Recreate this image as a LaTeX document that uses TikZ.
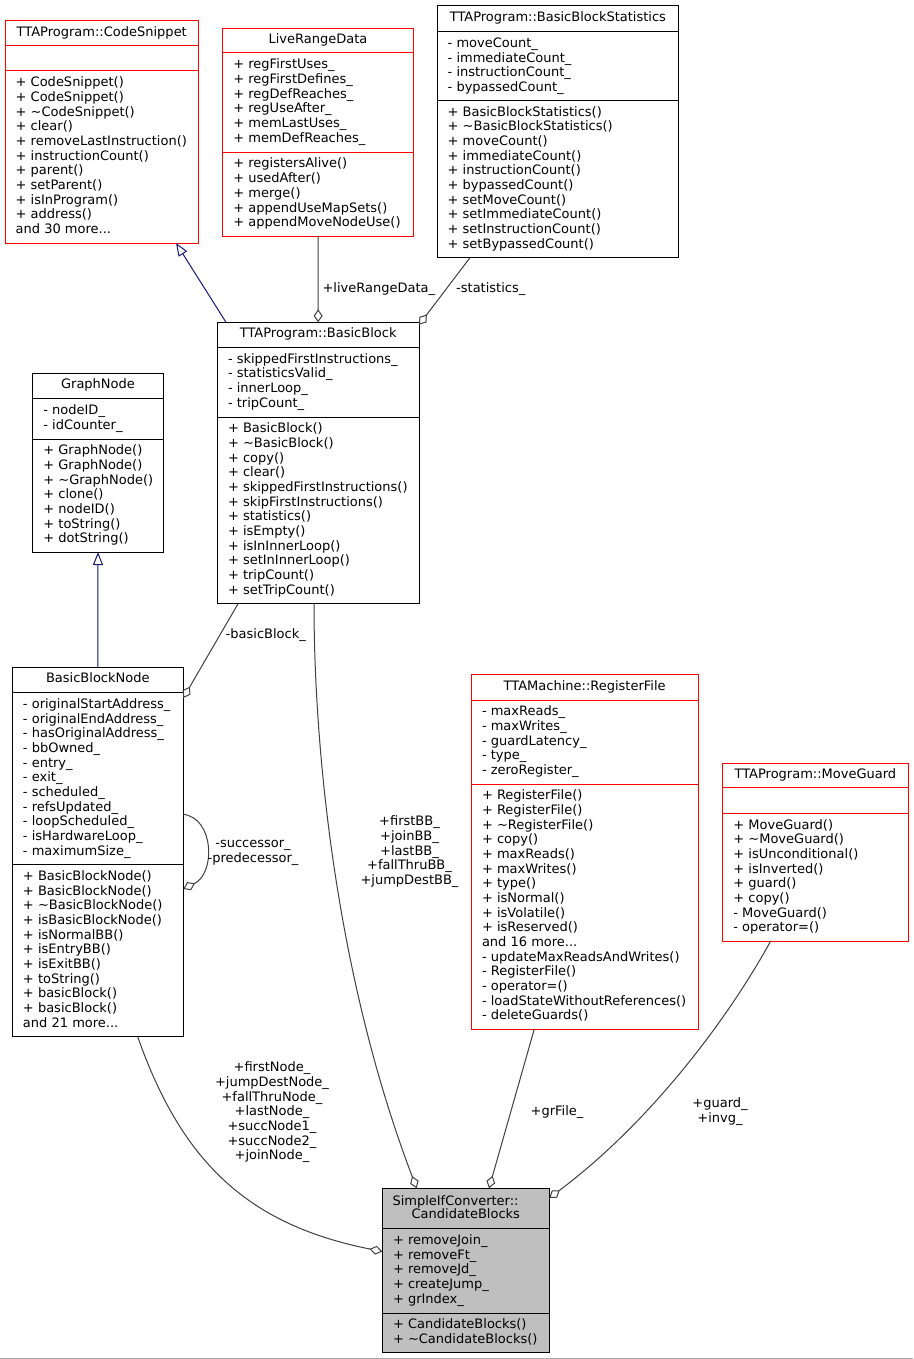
\documentclass[tikz,border=0pt]{standalone}
\usepackage{fontspec}
\setmainfont{DejaVu Sans}
\usetikzlibrary{arrows.meta,calc}
\definecolor{edgegray}{HTML}{404040}
\definecolor{inhblue}{HTML}{191970}
\definecolor{cbfill}{HTML}{BFBFBF}
\definecolor{boxred}{HTML}{FF0000}
\definecolor{pageline}{HTML}{A8A8A8}
\newcommand\fs{\fontsize{13pt}{14.67pt}\selectfont}
\tikzset{
 box/.style={draw=black, line width=1pt, inner sep=0pt, outer sep=0pt, anchor=north west, fill=white},
 rbox/.style={box, draw=boxred},
 gbox/.style={box, fill=cbfill},
 sepk/.style={draw=black, line width=1pt},
 sepr/.style={draw=boxred, line width=1pt},
 txt/.style={inner sep=0pt, anchor=north west, align=left, font=\fs},
 ttl/.style={inner sep=0pt, anchor=base, font=\fs},
 lbl/.style={inner sep=0pt, anchor=north, align=center, font=\fs},
 slbl/.style={inner sep=0pt, anchor=base west, font=\fs},
 agg/.style={draw=edgegray, line width=1pt, -{Diamond[open,length=13pt,width=9pt]}},
 inh/.style={draw=inhblue, line width=1pt, -{Triangle[open,length=13pt,width=10pt]}},
}
\newcommand\sect[4]{\node[txt] (#1) at (#2,#3-11) {\rule{0pt}{11pt}#4};}
\newcommand\tl{\textasciitilde}
\begin{document}
\begin{tikzpicture}[x=1pt,y=-1pt]
\fill[white] (0,0) rectangle (913,1359);
\useasboundingbox (0,0) rectangle (913,1359);
\draw[pageline, line width=1pt] (0,1358.3) -- (913,1358.3);

% ---- TTAProgram::CodeSnippet
\node[rbox, minimum width=193.5pt, minimum height=222.3pt] (cs) at (5,20.7) {};
\draw[sepr] (5,45.7) -- (198.5,45.7);
\draw[sepr] (5,71) -- (198.5,71);
\node[ttl] (cs-h) at (101.75,36.2) {TTAProgram::CodeSnippet};
\sect{cs-m}{15.5}{86.5}{+ CodeSnippet()\\+ CodeSnippet()\\+ \tl CodeSnippet()\\+ clear()\\+ removeLastInstruction()\\+ instructionCount()\\+ parent()\\+ setParent()\\+ isInProgram()\\+ address()\\and 30 more...}

% ---- LiveRangeData
\node[rbox, minimum width=190.6pt, minimum height=207.7pt] (lrd) at (222.7,28.3) {};
\draw[sepr] (222.7,53) -- (413.3,53);
\draw[sepr] (222.7,152.3) -- (413.3,152.3);
\node[ttl] (lrd-h) at (318,43.8) {LiveRangeData};
\sect{lrd-a}{233.2}{68.5}{+ regFirstUses\_\\+ regFirstDefines\_\\+ regDefReaches\_\\+ regUseAfter\_\\+ memLastUses\_\\+ memDefReaches\_}
\sect{lrd-m}{233.2}{167.8}{+ registersAlive()\\+ usedAfter()\\+ merge()\\+ appendUseMapSets()\\+ appendMoveNodeUse()}

% ---- TTAProgram::BasicBlockStatistics
\node[box, minimum width=241.7pt, minimum height=252pt] (bbs) at (437,5.7) {};
\draw[sepk] (437,31.7) -- (678.7,31.7);
\draw[sepk] (437,100.3) -- (678.7,100.3);
\node[ttl] (bbs-h) at (557.85,21.2) {TTAProgram::BasicBlockStatistics};
\sect{bbs-a}{447.5}{47.2}{- moveCount\_\\- immediateCount\_\\- instructionCount\_\\- bypassedCount\_}
\sect{bbs-m}{447.5}{115.8}{+ BasicBlockStatistics()\\+ \tl BasicBlockStatistics()\\+ moveCount()\\+ immediateCount()\\+ instructionCount()\\+ bypassedCount()\\+ setMoveCount()\\+ setImmediateCount()\\+ setInstructionCount()\\+ setBypassedCount()}

% ---- TTAProgram::BasicBlock
\node[box, minimum width=201.7pt, minimum height=281pt] (bb) at (217.3,322.3) {};
\draw[sepk] (217.3,347.6) -- (419,347.6);
\draw[sepk] (217.3,417) -- (419,417);
\node[ttl] (bb-h) at (318.15,337.8) {TTAProgram::BasicBlock};
\sect{bb-a}{227.8}{363.1}{- skippedFirstInstructions\_\\- statisticsValid\_\\- innerLoop\_\\- tripCount\_}
\sect{bb-m}{227.8}{432.5}{+ BasicBlock()\\+ \tl BasicBlock()\\+ copy()\\+ clear()\\+ skippedFirstInstructions()\\+ skipFirstInstructions()\\+ statistics()\\+ isEmpty()\\+ isInInnerLoop()\\+ setInInnerLoop()\\+ tripCount()\\+ setTripCount()}

% ---- GraphNode
\node[box, minimum width=130.6pt, minimum height=178.7pt] (gn) at (32.7,373.3) {};
\draw[sepk] (32.7,398.7) -- (163.3,398.7);
\draw[sepk] (32.7,439) -- (163.3,439);
\node[ttl] (gn-h) at (98,388.8) {GraphNode};
\sect{gn-a}{43.2}{414.2}{- nodeID\_\\- idCounter\_}
\sect{gn-m}{43.2}{454.5}{+ GraphNode()\\+ GraphNode()\\+ \tl GraphNode()\\+ clone()\\+ nodeID()\\+ toString()\\+ dotString()}

% ---- BasicBlockNode
\node[box, minimum width=171pt, minimum height=369.7pt] (bbn) at (12.3,667) {};
\draw[sepk] (12.3,692.7) -- (183.3,692.7);
\draw[sepk] (12.3,864.7) -- (183.3,864.7);
\node[ttl] (bbn-h) at (97.8,682.5) {BasicBlockNode};
\sect{bbn-a}{22.8}{708.2}{- originalStartAddress\_\\- originalEndAddress\_\\- hasOriginalAddress\_\\- bbOwned\_\\- entry\_\\- exit\_\\- scheduled\_\\- refsUpdated\_\\- loopScheduled\_\\- isHardwareLoop\_\\- maximumSize\_}
\sect{bbn-m}{22.8}{880.2}{+ BasicBlockNode()\\+ BasicBlockNode()\\+ \tl BasicBlockNode()\\+ isBasicBlockNode()\\+ isNormalBB()\\+ isEntryBB()\\+ isExitBB()\\+ toString()\\+ basicBlock()\\+ basicBlock()\\and 21 more...}

% ---- TTAMachine::RegisterFile
\node[rbox, minimum width=226.7pt, minimum height=354.3pt] (rf) at (471.3,674.7) {};
\draw[sepr] (471.3,700) -- (698,700);
\draw[sepr] (471.3,784) -- (698,784);
\node[ttl] (rf-h) at (584.65,690.2) {TTAMachine::RegisterFile};
\sect{rf-a}{481.8}{715.5}{- maxReads\_\\- maxWrites\_\\- guardLatency\_\\- type\_\\- zeroRegister\_}
\sect{rf-m}{481.8}{799.5}{+ RegisterFile()\\+ RegisterFile()\\+ \tl RegisterFile()\\+ copy()\\+ maxReads()\\+ maxWrites()\\+ type()\\+ isNormal()\\+ isVolatile()\\+ isReserved()\\and 16 more...\\- updateMaxReadsAndWrites()\\- RegisterFile()\\- operator=()\\- loadStateWithoutReferences()\\- deleteGuards()}

% ---- TTAProgram::MoveGuard
\node[rbox, minimum width=185.3pt, minimum height=178pt] (mg) at (722.7,763) {};
\draw[sepr] (722.7,787.7) -- (908,787.7);
\draw[sepr] (722.7,813.3) -- (908,813.3);
\node[ttl] (mg-h) at (815.35,778.5) {TTAProgram::MoveGuard};
\sect{mg-m}{733.2}{828.8}{+ MoveGuard()\\+ \tl MoveGuard()\\+ isUnconditional()\\+ isInverted()\\+ guard()\\+ copy()\\- MoveGuard()\\- operator=()}

% ---- SimpleIfConverter::CandidateBlocks
\node[gbox, minimum width=167pt, minimum height=164pt] (cb) at (382.3,1188.3) {};
\draw[sepk] (382.3,1228.7) -- (549.3,1228.7);
\draw[sepk] (382.3,1313) -- (549.3,1313);
\node[slbl] (cb-h1) at (392.3,1205) {SimpleIfConverter::};
\node[ttl] (cb-h2) at (465.8,1218.3) {CandidateBlocks};
\sect{cb-a}{392.8}{1244.2}{+ removeJoin\_\\+ removeFt\_\\+ removeJd\_\\+ createJump\_\\+ grIndex\_}
\sect{cb-m}{392.8}{1328.5}{+ CandidateBlocks()\\+ \tl CandidateBlocks()}

% ---- connectors
\draw[inh] ($(bb.north west)+(8.7,0)$) -- ($(cs.south east)+(-22.5,0)$);
\draw[inh] (bbn.north) -- (gn.south);
\draw[agg] (lrd.south) -- (bb.north);
\draw[agg] ($(bbs.south west)+(33,0)$) -- ($(bb.north east)+(0,2.5)$);
\draw[agg] ($(bb.south west)+(21,0)$) -- ($(bbn.north east)+(0,31)$);
\draw[agg] ($(bbn.north east)+(0,147.3)$) .. controls +(30.7,3.7) and +(32.7,-16) .. ($(bbn.north east)+(0,222)$);
\draw[agg] ($(bb.south west)+(96.7,0)$) .. controls +(0,150) and +(-80,-210) .. ($(cb.north west)+(34.4,0)$);
\draw[agg] ($(bbn.south west)+(125.4,0)$) .. controls +(45.5,130) and +(-130,-26) .. ($(cb.north west)+(0,63.2)$);
\draw[agg] ($(rf.south west)+(63,0)$) -- ($(cb.north west)+(106.7,0)$);
\draw[agg] ($(mg.south west)+(48,0)$) .. controls +(-44,80) and +(100,-75) .. ($(cb.north east)+(0,9.7)$);

% ---- connector labels
\node[slbl] (l-lrd) at (322.3,292.7) {+liveRangeData\_};
\node[slbl] (l-stat) at (456,292.7) {-statistics\_};
\node[slbl] (l-bb) at (225.5,638.3) {-basicBlock\_};
\node[lbl] (l-succ) at (253,836.7) {\rule{0pt}{11pt}-successor\_\\-predecessor\_};
\node[lbl] (l-bbs) at (409.5,814.7) {\rule{0pt}{11pt}+firstBB\_\\+joinBB\_\\+lastBB\_\\+fallThruBB\_\\+jumpDestBB\_};
\node[lbl] (l-nodes) at (272,1060.7) {\rule{0pt}{11pt}+firstNode\_\\+jumpDestNode\_\\+fallThruNode\_\\+lastNode\_\\+succNode1\_\\+succNode2\_\\+joinNode\_};
\node[ttl] (l-gr) at (557,1115) {+grFile\_};
\node[lbl] (l-guard) at (720,1096.7) {\rule{0pt}{11pt}+guard\_\\+invg\_};
\end{tikzpicture}
\end{document}
